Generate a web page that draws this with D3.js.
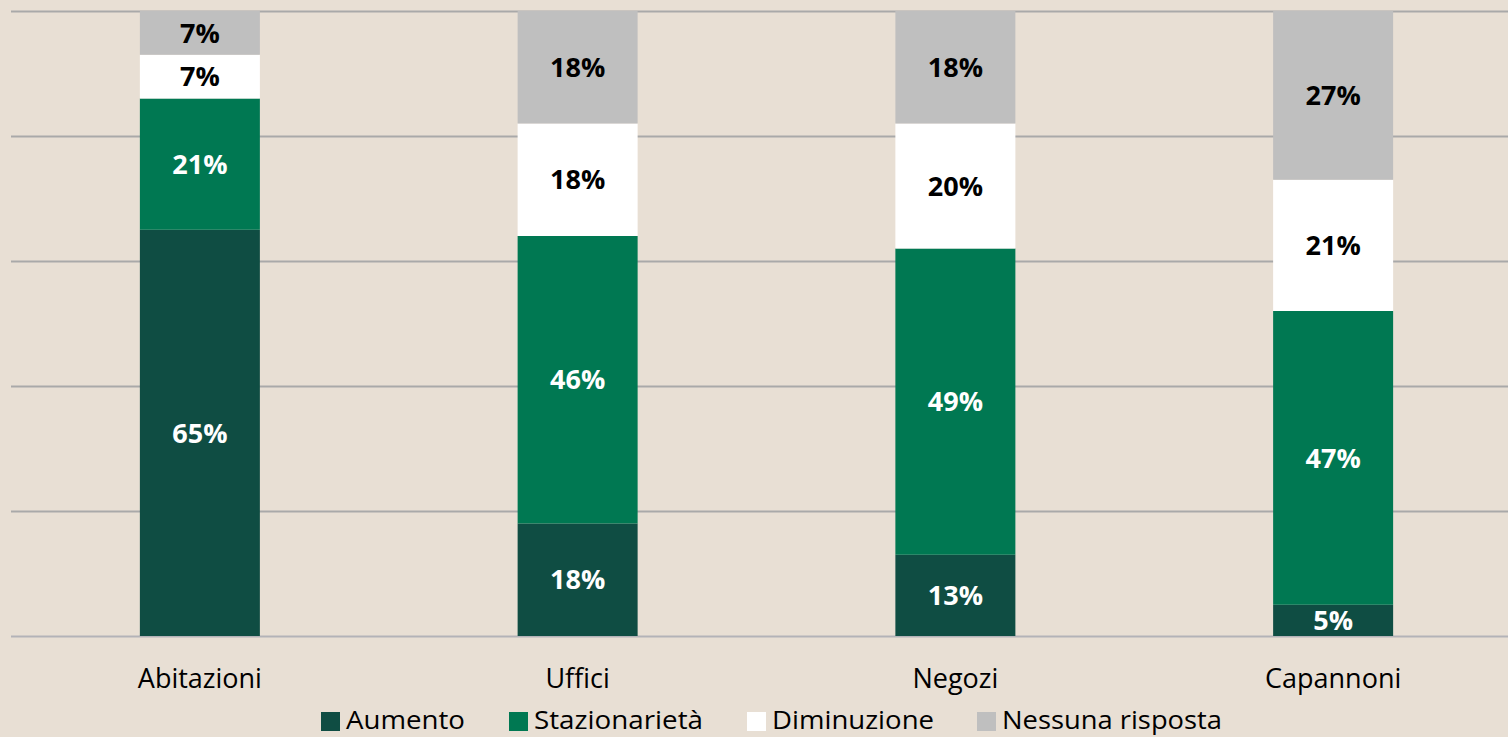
<!DOCTYPE html>
<html>
<head>
<meta charset="utf-8">
<script src="https://cdn.jsdelivr.net/npm/d3@7"></script>
<style>
    body { margin: 0; background: #e8dfd4; }
    svg { display: block; }
</style>
</head>
<body>
<div id="chart"></div>
<script>
const categories = ["Abitazioni", "Uffici", "Negozi", "Capannoni"];
const seriesNames = ["Aumento", "Stazionarietà", "Diminuzione", "Nessuna risposta"];
const aumento = [65, 18, 13, 5];
const stazionarieta = [21, 46, 49, 47];
const diminuzione = [7, 18, 20, 21];
const nessuna = [7, 18, 18, 27];
const yTicks = [0, 20, 40, 60, 80, 100];

const colors = ["#0f4d43", "#007852", "#ffffff", "#bfbfbf"];
const labelColors = ["#ffffff", "#ffffff", "#000000", "#000000"];

const width = 1508;
const height = 737;

const svg = d3.select("#chart")
    .append("svg")
    .attr("width", width)
    .attr("height", height);

svg.append("rect")
    .attr("width", width)
    .attr("height", height)
    .attr("fill", "#e8dfd4");

const rows = categories.map((c, i) => ({
    cat: c,
    "Aumento": aumento[i],
    "Stazionarietà": stazionarieta[i],
    "Diminuzione": diminuzione[i],
    "Nessuna risposta": nessuna[i]
}));

const stack = d3.stack().keys(seriesNames)(rows);

const pad = 1 - 120 / 377.75;
const x = d3.scaleBand()
    .domain(categories)
    .range([11, 1522])
    .paddingInner(pad)
    .paddingOuter(pad / 2);

const y = d3.scaleLinear()
    .domain([0, 100])
    .range([636, 11]);

// gridlines
svg.append("g")
    .selectAll("line")
    .data(yTicks)
    .enter()
    .append("line")
    .attr("x1", 11)
    .attr("x2", width)
    .attr("y1", d => Math.round(y(d)) + 0.5)
    .attr("y2", d => Math.round(y(d)) + 0.5)
    .attr("stroke", d => d === 0 ? "#b3b3b8" : "#a9a9a9")
    .attr("stroke-width", 2);

// bars
const layers = svg.append("g")
    .selectAll("g")
    .data(stack)
    .enter()
    .append("g")
    .attr("fill", (d, i) => colors[i]);

layers.selectAll("rect")
    .data(d => d)
    .enter()
    .append("rect")
    .attr("x", d => x(d.data.cat))
    .attr("width", x.bandwidth())
    .attr("y", d => y(d[1]))
    .attr("height", d => y(d[0]) - y(d[1]));

// value labels
svg.append("g")
    .selectAll("g")
    .data(stack)
    .enter()
    .append("g")
    .attr("fill", (d, i) => labelColors[i])
    .selectAll("text")
    .data(d => d)
    .enter()
    .append("text")
    .attr("x", d => x(d.data.cat) + x.bandwidth() / 2)
    .attr("y", d => (y(d[0]) + y(d[1])) / 2)
    .attr("dy", "0.36em")
    .attr("text-anchor", "middle")
    .style("font-family", "'Open Sans', sans-serif")
    .style("font-weight", "bold")
    .style("font-size", "27px")
    .text(d => (d[1] - d[0]) + "%");

// category labels
svg.append("g")
    .selectAll("text")
    .data(categories)
    .enter()
    .append("text")
    .attr("x", d => x(d) + x.bandwidth() / 2)
    .attr("y", 678)
    .attr("dy", "0.36em")
    .attr("text-anchor", "middle")
    .style("font-family", "'Open Sans', sans-serif")
    .style("font-size", "27px")
    .style("fill", "#000")
    .text(d => d);

// legend
const legendX = [321, 509, 747, 977];
const legendW = [119, 169, 162, 220];
const legend = svg.append("g")
    .selectAll("g")
    .data(seriesNames)
    .enter()
    .append("g")
    .attr("transform", (d, i) => `translate(${legendX[i]},0)`);

legend.append("rect")
    .attr("x", 0)
    .attr("y", 712)
    .attr("width", 19)
    .attr("height", 19)
    .attr("fill", (d, i) => colors[i]);

legend.append("text")
    .attr("x", 25)
    .attr("y", 720)
    .attr("dy", "0.36em")
    .attr("textLength", (d, i) => legendW[i])
    .attr("lengthAdjust", "spacingAndGlyphs")
    .style("font-family", "'Open Sans', sans-serif")
    .style("font-size", "25px")
    .style("fill", "#000")
    .text(d => d);
</script>
</body>
</html>
